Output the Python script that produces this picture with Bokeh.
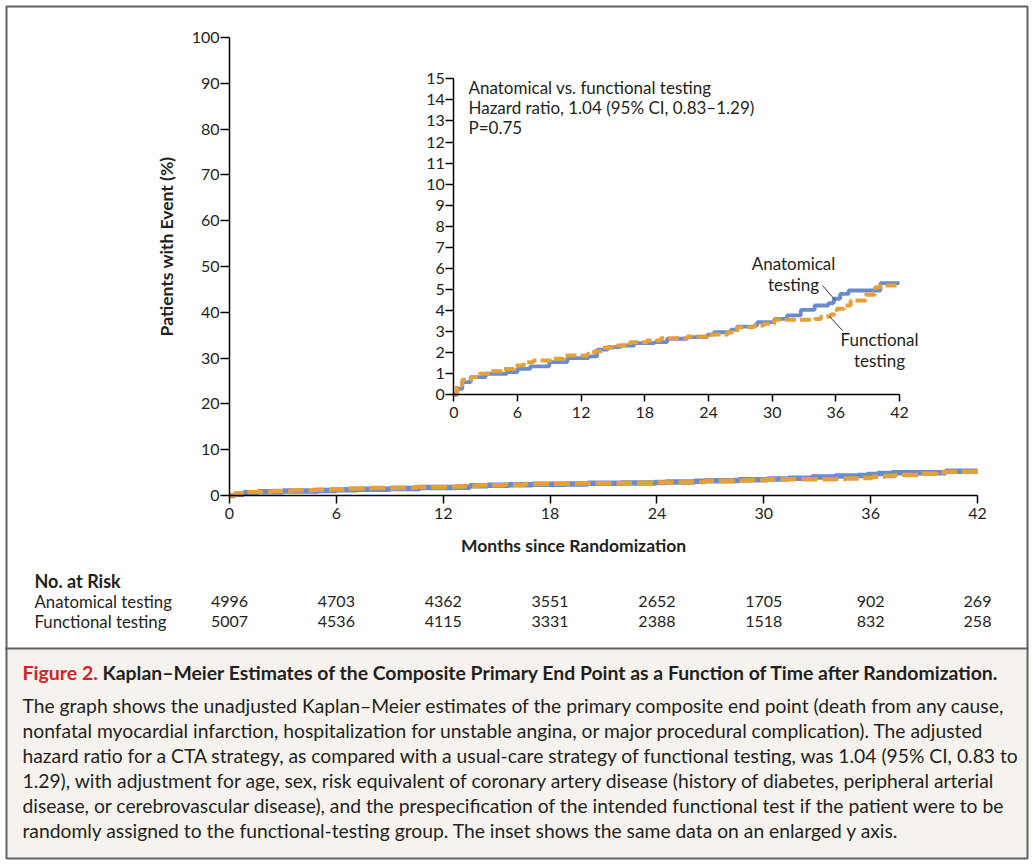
import numpy as np
from bokeh.plotting import figure
from bokeh.models import Range1d, LinearAxis, FixedTicker
from bokeh.core.properties import value
from bokeh.embed import file_html
from bokeh.resources import INLINE

# ---------------- data ----------------
anat_t = [0, 0.3, 0.8, 1.6, 3.0, 5.0, 6.0, 7.2, 9.0, 10.7, 12.7, 13.5, 14.5, 15.7,
          17.0, 18.9, 20.1, 22.0, 23.9, 24.5, 26.1, 26.7, 28.3, 28.6, 30.2, 31.4,
          32.7, 34.0, 35.3, 35.8, 36.4, 37.2, 40.2, 42.0]
anat_v = [0, 0.28, 0.60, 0.84, 1.00, 1.08, 1.23, 1.35, 1.55, 1.74, 1.82, 2.14, 2.26, 2.34,
          2.45, 2.50, 2.66, 2.74, 2.86, 2.97, 3.09, 3.24, 3.29, 3.45, 3.60, 3.77,
          4.03, 4.24, 4.35, 4.56, 4.79, 4.95, 5.30, 5.30]

func_t = [0, 0.3, 0.8, 1.6, 2.4, 3.5, 4.7, 5.7, 6.6, 7.5, 9.4, 10.4, 12.6, 13.2, 14.0,
          15.4, 16.6, 18.2, 19.5, 22.0, 23.9, 25.8, 26.7, 28.3, 29.2, 30.2, 34.0,
          34.6, 35.5, 36.1, 36.8, 37.4, 38.8, 39.7, 40.2, 42.0]
func_v = [0.05, 0.44, 0.71, 0.84, 1.00, 1.12, 1.23, 1.39, 1.55, 1.63, 1.71, 1.87, 1.95, 2.07, 2.23,
          2.34, 2.50, 2.58, 2.69, 2.77, 2.86, 2.97, 3.21, 3.29, 3.37, 3.56, 3.60,
          3.72, 3.81, 4.08, 4.24, 4.48, 4.75, 5.11, 5.19, 5.19]

x_ticks = [0, 6, 12, 18, 24, 30, 36, 42]
main_y_ticks = [0, 10, 20, 30, 40, 50, 60, 70, 80, 90, 100]
inset_y_ticks = list(range(0, 16))

risk_months = [0, 6, 12, 18, 24, 30, 36, 42]
risk_anat = [4996, 4703, 4362, 3551, 2652, 1705, 902, 269]
risk_func = [5007, 4536, 4115, 3331, 2388, 1518, 832, 258]

caption_title_red = "Figure 2."
caption_title = ("Kaplan\u2013Meier Estimates of the Composite Primary End Point as a "
                 "Function of Time after Randomization.")
caption_lines = [
    "The graph shows the unadjusted Kaplan\u2013Meier estimates of the primary composite end point (death from any cause,",
    "nonfatal myocardial infarction, hospitalization for unstable angina, or major procedural complication). The adjusted",
    "hazard ratio for a CTA strategy, as compared with a usual-care strategy of functional testing, was 1.04 (95% CI, 0.83 to",
    "1.29), with adjustment for age, sex, risk equivalent of coronary artery disease (history of diabetes, peripheral arterial",
    "disease, or cerebrovascular disease), and the prespecification of the intended functional test if the patient were to be",
    "randomly assigned to the functional-testing group. The inset shows the same data on an enlarged y axis.",
]

# ---------------- styles ----------------
FONT = "Lato"
TXT = "#231f20"
BLUE = "#6a8ccb"
ORANGE = "#e6a03a"
BORDER = "#616161"
CAPBG = "#f6f3ee"

W, H = 1030, 862
OX, OY = 0, 0

p = figure(width=W, height=H, output_backend="svg", toolbar_location=None,
           x_range=Range1d(OX, OX + W), y_range=Range1d(OY + H, OY),
           min_border=0, x_axis_type=None, y_axis_type=None)
p.outline_line_color = None
p.background_fill_color = "white"
p.border_fill_color = "white"


def span_range(p0, v0, p1, v1, a, b):
    k = (v1 - v0) / (p1 - p0)
    return Range1d(v0 + (a - p0) * k, v0 + (b - p0) * k)


p.extra_x_ranges = {"mx": span_range(229, 0, 977, 42, OX, OX + W),
                    "ix": span_range(453.3, 0, 899, 42, OX, OX + W)}
p.extra_y_ranges = {"my": span_range(495, 0, 37, 100, OY + H, OY),
                    "iy": span_range(394.3, 0, 78.3, 15, OY + H, OY)}

# ---------------- caption panel / frame ----------------
p.quad(left=[7], right=[1026], top=[649], bottom=[857], fill_color=CAPBG, line_color=None)
p.segment(x0=[5], x1=[1028], y0=[648], y1=[648], line_color=BORDER, line_width=2)
p.quad(left=[6], right=[1027], top=[6], bottom=[858], fill_color=None,
       line_color=BORDER, line_width=2)


def make_axis(side, xr, yr, loc, bounds, ticks, tick_out, fsize, standoff):
    ax = LinearAxis(x_range_name=xr, y_range_name=yr, fixed_location=loc, bounds=bounds,
                    ticker=FixedTicker(ticks=ticks, minor_ticks=[]))
    ax.axis_line_color = "black"
    ax.axis_line_width = 1.5
    ax.major_tick_line_color = "black"
    ax.major_tick_line_width = 1.5
    ax.major_tick_out = tick_out
    ax.major_tick_in = 0
    ax.minor_tick_line_color = None
    ax.major_label_text_font = FONT
    ax.major_label_text_font_size = fsize
    ax.major_label_text_color = TXT
    ax.major_label_standoff = standoff
    p.add_layout(ax, side)
    return ax


# main axes
make_axis("below", "mx", "my", 0, (0, 42), x_ticks, 8, "16px", 4)
make_axis("left", "mx", "my", 0, (0, 100), main_y_ticks, 9, "16px", 1)
# inset axes
make_axis("below", "ix", "iy", 0, (0, 42), x_ticks, 7, "16px", 5)
make_axis("left", "ix", "iy", 0, (0, 15), inset_y_ticks, 8, "16px", 1)

# main curves
p.step(anat_t, anat_v, mode="after", x_range_name="mx", y_range_name="my",
       line_color=BLUE, line_width=5.5)
p.step(func_t, func_v, mode="after", x_range_name="mx", y_range_name="my",
       line_color=ORANGE, line_width=4.5, line_dash="16 5")

# inset curves
p.step(anat_t, anat_v, mode="after", x_range_name="ix", y_range_name="iy",
       line_color=BLUE, line_width=3.8)
p.step(func_t, func_v, mode="after", x_range_name="ix", y_range_name="iy",
       line_color=ORANGE, line_width=4, line_dash="11 4")

# axis titles
p.text(x=[166], y=[246], text=["Patients with Event (%)"], angle=np.pi / 2,
       text_font=value(FONT), text_font_size="17.5px", text_font_style="bold",
       text_color=TXT, text_align="center", text_baseline="middle")
p.text(x=[573], y=[545], text=["Months since Randomization"],
       text_font=value(FONT), text_font_size="17.5px", text_font_style="bold",
       text_color=TXT, text_align="center", text_baseline="middle")

# inset annotation
p.text(x=[468, 468, 468], y=[87, 107, 127],
       text=["Anatomical vs. functional testing",
             "Hazard ratio, 1.04 (95% CI, 0.83\u20131.29)", "P=0.75"],
       text_font=value(FONT), text_font_size="17px", text_color=TXT,
       text_align="left", text_baseline="middle")
p.text(x=[793, 793], y=[263, 284], text=["Anatomical", "testing"],
       text_font=value(FONT), text_font_size="17px", text_color=TXT,
       text_align="center", text_baseline="middle")
p.text(x=[879, 879], y=[339, 360], text=["Functional", "testing"],
       text_font=value(FONT), text_font_size="17px", text_color=TXT,
       text_align="center", text_baseline="middle")
p.segment(x0=[822, 829], y0=[285, 316], x1=[835, 842], y1=[300, 330],
          line_color="#333333", line_width=1)

# number at risk
p.text(x=[34], y=[580], text=["No. at Risk"], text_font=value(FONT),
       text_font_size="18px", text_font_style="bold", text_color=TXT,
       text_align="left", text_baseline="middle")
p.text(x=[34, 34], y=[601, 621], text=["Anatomical testing", "Functional testing"],
       text_font=value(FONT), text_font_size="16.8px", text_color=TXT,
       text_align="left", text_baseline="middle")
p.text(x=risk_months, y=[601] * len(risk_months), text=[str(v) for v in risk_anat],
       x_range_name="mx", text_font=value(FONT), text_font_size="16px", text_color=TXT,
       text_align="center", text_baseline="middle")
p.text(x=risk_months, y=[621] * len(risk_months), text=[str(v) for v in risk_func],
       x_range_name="mx", text_font=value(FONT), text_font_size="16px", text_color=TXT,
       text_align="center", text_baseline="middle")

# caption
p.text(x=[22], y=[672], text=[caption_title_red], text_font=value(FONT),
       text_font_size="19.5px", text_font_style="bold", text_color="#d2232a",
       text_align="left", text_baseline="middle")
p.text(x=[102], y=[672], text=[caption_title], text_font=value(FONT),
       text_font_size="19.4px", text_font_style="bold", text_color=TXT,
       text_align="left", text_baseline="middle")
p.text(x=[22] * len(caption_lines), y=[705, 730, 755, 780, 805, 830], text=caption_lines,
       text_font=value(FONT), text_font_size="19.3px", text_color=TXT,
       text_align="left", text_baseline="middle")

open("out.html", "w").write(file_html(p, INLINE))
